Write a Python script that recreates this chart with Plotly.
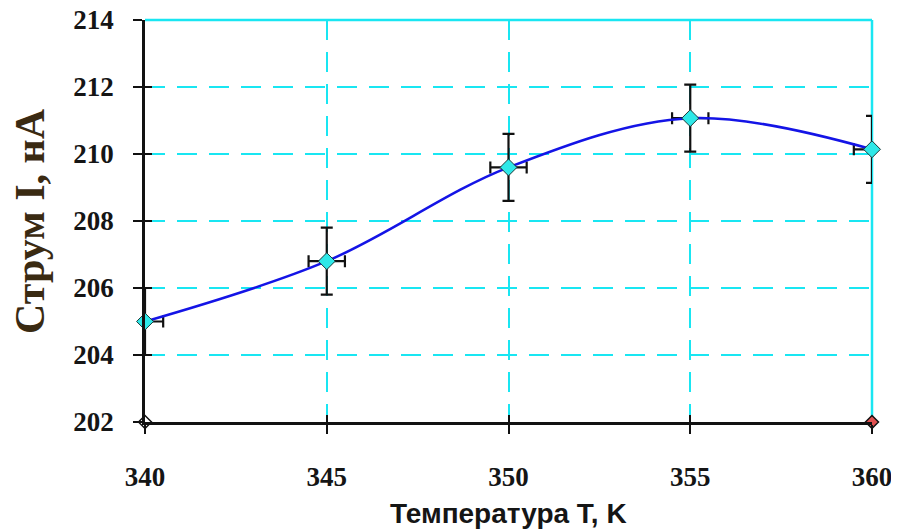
import plotly.graph_objects as go

temperature = [340, 345, 350, 355, 360]
current = [205.0, 206.8, 209.6, 211.07, 210.14]
current_err = [1.0, 1.0, 1.0, 1.0, 1.0]
temp_err = [0.5, 0.5, 0.5, 0.5, 0.5]
corner_x = [340, 360]
corner_y = [202, 202]
x_ticks = [340, 345, 350, 355, 360]
y_ticks = [202, 204, 206, 208, 210, 212, 214]

GRID = "#19e6f2"
tick_font = dict(family="Liberation Serif", size=27, color="#151515")

fig = go.Figure()

fig.add_trace(go.Scatter(
    x=temperature, y=current,
    mode="lines+markers",
    line=dict(color="#1414e6", width=2.5, shape="spline", smoothing=1.0),
    marker=dict(symbol="diamond", size=13, color="#2ee8e8",
                line=dict(color="#1c3838", width=1)),
    error_y=dict(type="data", array=current_err, color="#111111", thickness=2.2, width=6),
    error_x=dict(type="data", array=temp_err, color="#111111", thickness=2.2, width=6),
    cliponaxis=False,
    showlegend=False,
))

fig.add_trace(go.Scatter(
    x=corner_x, y=corner_y, mode="markers",
    marker=dict(symbol="diamond", size=10, color=["#ffffff", "#e05050"],
                line=dict(color="#111111", width=1.5)),
    cliponaxis=False, showlegend=False, hoverinfo="skip",
))

# invisible trace to hold overlay axes for inner tick halves
fig.add_trace(go.Scatter(x=[350], y=[208], xaxis="x2", yaxis="y2",
                         mode="markers", marker=dict(opacity=0),
                         showlegend=False, hoverinfo="skip"))

# page body has an 8px default margin, so the figure is sized to fit the window
fig.update_layout(
    width=891, height=524,
    margin=dict(l=137, r=27, t=12, b=110, autoexpand=False),
    paper_bgcolor="white", plot_bgcolor="white",
    xaxis=dict(
        range=[340, 360], tickvals=x_ticks, ticktext=[f"<b>{v}</b>" for v in x_ticks],
        showgrid=True, gridcolor=GRID, gridwidth=2, griddash="20px,12px",
        zeroline=False, showline=True, linecolor="#111111", linewidth=2.5,
        ticks="outside", ticklen=9, tickwidth=2, tickcolor="#111111",
        tickfont=tick_font, ticklabelstandoff=20, automargin=False,
        ticklabeloverflow="allow",
    ),
    yaxis=dict(
        range=[202, 214], tickvals=y_ticks, ticktext=[f"<b>{v}</b>" for v in y_ticks],
        showgrid=True, gridcolor=GRID, gridwidth=2, griddash="20px,12px",
        zeroline=False, showline=True, linecolor="#111111", linewidth=2.5,
        ticks="outside", ticklen=9, tickwidth=2, tickcolor="#111111",
        tickfont=tick_font, ticklabelstandoff=14, automargin=False,
        ticklabeloverflow="allow",
    ),
    xaxis2=dict(range=[340, 360], tickvals=x_ticks, overlaying="x",
                showgrid=False, zeroline=False, showline=False,
                ticks="inside", ticklen=7, tickwidth=2, tickcolor="#111111",
                showticklabels=False, side="bottom", automargin=False),
    yaxis2=dict(range=[202, 214], tickvals=y_ticks, overlaying="y",
                showgrid=False, zeroline=False, showline=False,
                ticks="inside", ticklen=7, tickwidth=2, tickcolor="#111111",
                showticklabels=False, side="left", automargin=False),
    shapes=[
        dict(type="line", xref="paper", yref="paper", x0=0, x1=1, y0=1, y1=1,
             line=dict(color=GRID, width=2.5), layer="below"),
        dict(type="line", xref="paper", yref="paper", x0=1, x1=1, y0=0, y1=1,
             line=dict(color=GRID, width=2.5), layer="below"),
    ],
    annotations=[
        dict(text="<b>Температура T, K</b>", xref="paper", yref="paper",
             x=0.5, y=0, xanchor="center", yanchor="middle", yshift=-91,
             showarrow=False,
             font=dict(family="Liberation Sans", size=28, color="#151515")),
        dict(text="<b>Струм I, нA</b>", xref="paper", yref="paper",
             x=0, y=0.5, xanchor="center", yanchor="middle", xshift=-115,
             textangle=-90, showarrow=False,
             font=dict(family="Liberation Serif", size=42, color="#3a2a12")),
    ],
)

fig.write_html("out.html")
